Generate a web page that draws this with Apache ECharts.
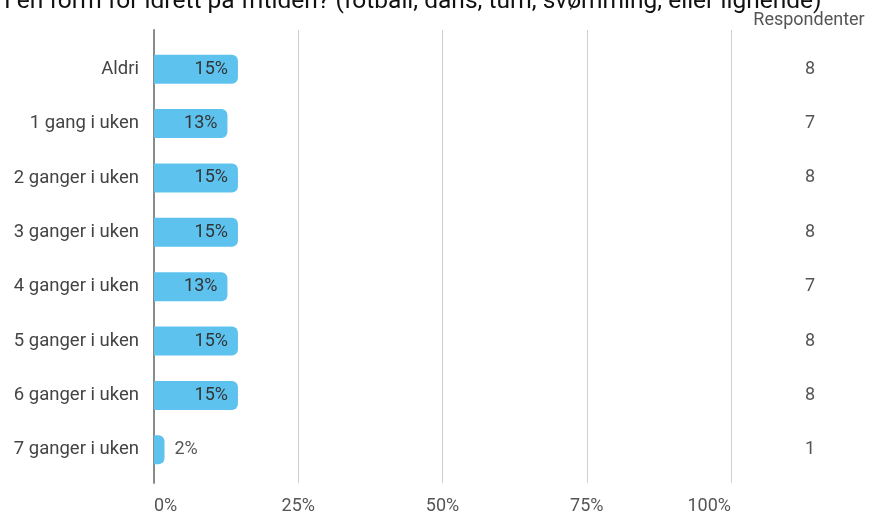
<!DOCTYPE html>
<html>
<head>
<meta charset="utf-8">
<script src="https://cdn.jsdelivr.net/npm/echarts@6/dist/echarts.min.js"></script>
<style>
  html, body { margin: 0; padding: 0; background: #fff; }
  #chart { width: 872px; height: 515px; }
</style>
</head>
<body>
<div id="chart"></div>
<script>
// Answer categories (top to bottom)
const categories = ['Aldri', '1 gang i uken', '2 ganger i uken', '3 ganger i uken',
  '4 ganger i uken', '5 ganger i uken', '6 ganger i uken', '7 ganger i uken'];
// Number of respondents per answer
const respondents = [8, 7, 8, 8, 7, 8, 8, 1];
// Percentage axis ticks
const percentTicks = [0, 25, 50, 75, 100];

const total = respondents.reduce((a, b) => a + b, 0);
const shares = respondents.map(n => n / total * 100);

const FONT = 'Roboto, "Noto Sans", sans-serif';
const chart = echarts.init(document.getElementById('chart'), null, { renderer: 'canvas' });

const gridLeft = 154, gridRight = 872 - 731;

chart.setOption({
  animation: false,
  backgroundColor: '#ffffff',
  title: {
    text: 'I en form for idrett på fritiden? (fotball, dans, turn, svømming, eller lignende)',
    left: -1,
    top: -16,
    textStyle: { fontFamily: FONT, fontSize: 24.5, fontWeight: 'normal', color: '#111' }
  },
  graphic: [{
    type: 'text',
    x: 809,
    y: 20,
    style: {
      text: 'Respondenter', fontFamily: FONT, fontSize: 18, fill: '#555',
      align: 'center', verticalAlign: 'middle'
    }
  }],
  grid: [
    // bars
    { left: gridLeft, right: gridRight, top: 42, height: 435 },
    // percentage gridlines + labels
    { left: gridLeft, right: gridRight, top: 30, height: 457 }
  ],
  xAxis: [
    {
      gridIndex: 0, type: 'value', min: 0, max: 100, show: false
    },
    {
      gridIndex: 1, type: 'value', min: 0, max: 100, interval: 25,
      axisLine: { show: false },
      axisTick: { show: false },
      splitLine: { show: true, lineStyle: { color: '#cfcfcf', width: 1 } },
      axisLabel: {
        margin: 14,
        alignMinLabel: 'left',
        alignMaxLabel: 'right',
        fontFamily: FONT, fontSize: 18, color: '#555',
        formatter: v => percentTicks.includes(v) ? v + '%' : ''
      }
    }
  ],
  yAxis: [
    {
      gridIndex: 0, type: 'category', data: categories, inverse: true,
      axisLine: { show: false },
      axisTick: { show: false },
      axisLabel: { margin: 15, fontFamily: FONT, fontSize: 18.5, color: '#444' }
    },
    {
      gridIndex: 0, type: 'category', data: respondents.map(String), inverse: true,
      position: 'right',
      axisLine: { show: false },
      axisTick: { show: false },
      axisLabel: { margin: 79, align: 'center', fontFamily: FONT, fontSize: 18, color: '#555' }
    },
    {
      gridIndex: 1, type: 'value', min: 0, max: 1, show: true,
      axisLine: { show: true, onZero: false, lineStyle: { color: '#8a8a8a', width: 2 } },
      axisTick: { show: false }, axisLabel: { show: false }, splitLine: { show: false }
    }
  ],
  series: [{
    type: 'bar',
    xAxisIndex: 0, yAxisIndex: 0,
    data: shares.map((v, i) => ({
      value: v,
      label: i === shares.length - 1
        ? { position: 'right', distance: 10, color: '#555' }
        : { position: 'insideRight', distance: 10, color: '#333' }
    })),
    barWidth: 29,
    itemStyle: { color: '#5ec2ef', borderRadius: [0, 6, 6, 0] },
    label: {
      show: true,
      fontFamily: FONT, fontSize: 18,
      formatter: p => Math.round(p.value) + '%'
    }
  }]
});
</script>
</body>
</html>
